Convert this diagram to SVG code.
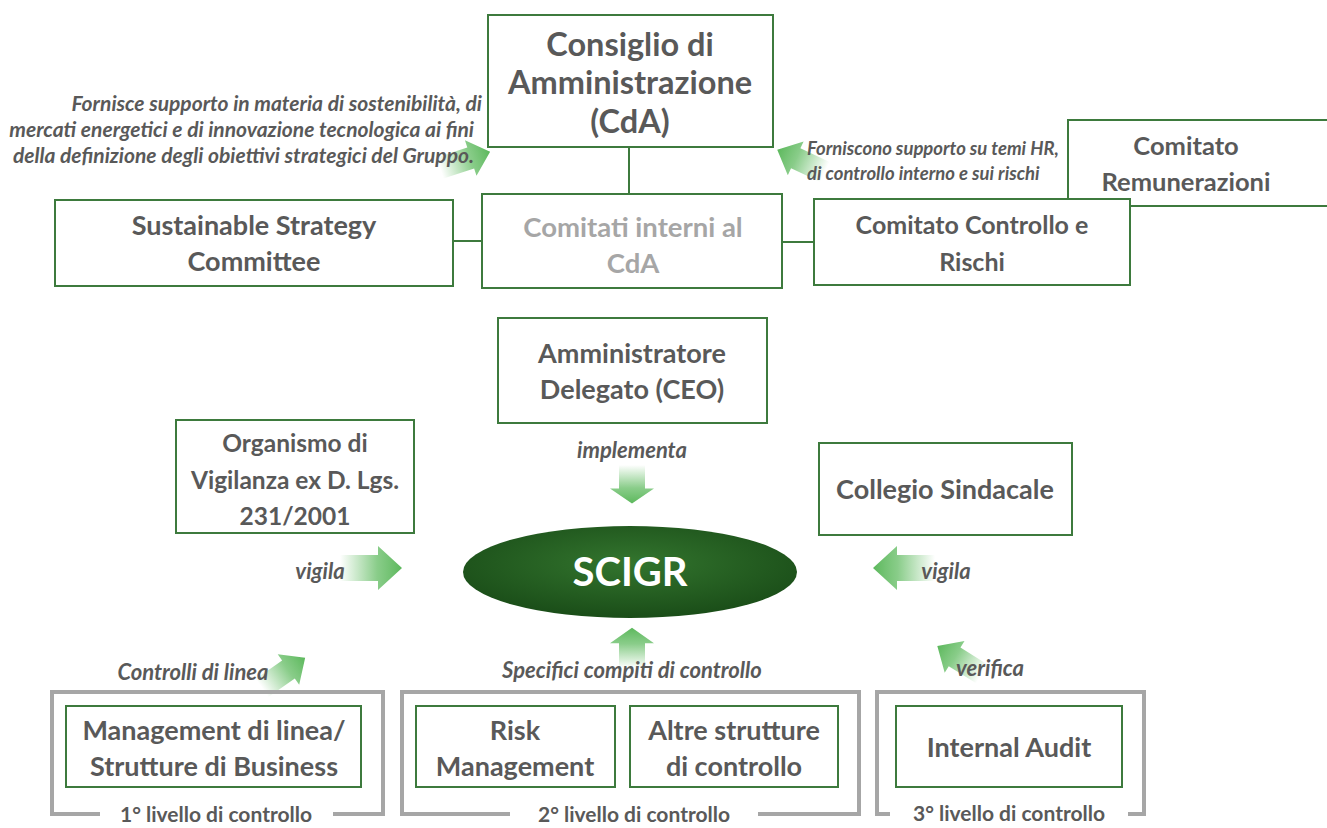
<svg xmlns="http://www.w3.org/2000/svg" width="1327" height="828" viewBox="0 0 1327 828">
<defs>
<linearGradient id="ag" x1="0" y1="0" x2="1" y2="0">
<stop offset="0" stop-color="#6cc06c" stop-opacity="0"/>
<stop offset="0.6" stop-color="#6cc06c" stop-opacity="0.8"/>
<stop offset="1" stop-color="#5cb85c"/>
</linearGradient>
<radialGradient id="eg" cx="0.5" cy="0.4" r="0.6">
<stop offset="0" stop-color="#33752e"/>
<stop offset="1" stop-color="#1a4d18"/>
</radialGradient>
<path id="arr" d="M0,-13 L38,-13 L38,-22 L62,0 L38,22 L38,13 L0,13 Z" fill="url(#ag)"/>
<style>
.box{fill:#fff;stroke:#3d7a3d;stroke-width:2}
.t{font-family:Lato,"Open Sans",sans-serif;font-weight:bold;fill:#595959;text-anchor:middle;font-size:27px}
.it{font-family:Lato,"Open Sans",sans-serif;font-weight:bold;font-style:italic;fill:#595959;font-size:22px}
.br{fill:none;stroke:#a6a6a6;stroke-width:4}
.ln{stroke:#3d7a3d;stroke-width:2;fill:none}
.lv{font-size:21px}
</style>
</defs>
<rect width="1327" height="828" fill="#fff"/>

<g id="connectors">
<line class="ln" x1="629" y1="147" x2="629" y2="194"/>
<line class="ln" x1="453" y1="241" x2="482" y2="241"/>
<line class="ln" x1="782" y1="242" x2="814" y2="242"/>
<use href="#arr" transform="translate(440,168) rotate(-18) scale(0.85)"/>
<use href="#arr" transform="translate(825,172) rotate(-155) scale(0.85)"/>
<use href="#arr" transform="translate(632,465) rotate(90) scale(0.62,1)"/>
<use href="#arr" transform="translate(340,568)"/>
<use href="#arr" transform="translate(935,568) rotate(180)"/>
<use href="#arr" transform="translate(632,668) rotate(-90) scale(0.65,1)"/>
<use href="#arr" transform="translate(262,688) rotate(-35) scale(0.85)"/>
<use href="#arr" transform="translate(982,674) rotate(-148) scale(0.85)"/>
</g>

<g id="note-left">
<text class="it" text-anchor="end" x="482" y="111" style="font-size:21px">Fornisce supporto in materia di sostenibilità, di</text>
<text class="it" text-anchor="end" x="474" y="137" style="font-size:21px">mercati energetici e di innovazione tecnologica ai fini</text>
<text class="it" text-anchor="end" x="474" y="163" style="font-size:21px">della definizione degli obiettivi strategici del Gruppo.</text>
</g>
<g id="note-right">
<text class="it" x="807" y="155" style="font-size:18.5px">Forniscono supporto su temi HR,</text>
<text class="it" x="807" y="180" style="font-size:18.5px">di controllo interno e sui rischi</text>
</g>

<g id="cda">
<rect class="box" x="488" y="15" width="285" height="132"/>
<text class="t" x="630" y="56" style="font-size:32.5px">Consiglio di</text>
<text class="t" x="630" y="94" style="font-size:32.5px">Amministrazione</text>
<text class="t" x="630" y="133" style="font-size:32.5px">(CdA)</text>
</g>

<g id="remunerazioni">
<rect class="box" x="1068" y="120" width="270" height="86"/>
<text class="t" x="1186" y="155" style="font-size:25.5px">Comitato</text>
<text class="t" x="1186" y="191" style="font-size:25.5px">Remunerazioni</text>
</g>

<g id="sustainable">
<rect class="box" x="55" y="200" width="398" height="86"/>
<text class="t" x="254" y="235">Sustainable Strategy</text>
<text class="t" x="254" y="271">Committee</text>
</g>

<g id="comitati">
<rect class="box" x="482" y="194" width="300" height="94"/>
<text class="t" x="633" y="237" style="fill:#a6a6a6;font-size:27.5px">Comitati interni al</text>
<text class="t" x="633" y="273" style="fill:#a6a6a6;font-size:27.5px">CdA</text>
</g>

<g id="controllo-rischi">
<rect class="box" x="814" y="199" width="316" height="86"/>
<text class="t" x="972" y="234" style="font-size:25px">Comitato Controllo e</text>
<text class="t" x="972" y="271" style="font-size:25px">Rischi</text>
</g>

<g id="ceo">
<rect class="box" x="498" y="318" width="269" height="105"/>
<text class="t" x="632" y="363">Amministratore</text>
<text class="t" x="632" y="399">Delegato (CEO)</text>
</g>

<g id="organismo">
<rect class="box" x="176" y="420" width="238" height="113"/>
<text class="t" x="295" y="452" style="font-size:24.5px">Organismo di</text>
<text class="t" x="295" y="489" style="font-size:24.5px">Vigilanza ex D. Lgs.</text>
<text class="t" x="295" y="525" style="font-size:24.5px">231/2001</text>
</g>

<g id="collegio">
<rect class="box" x="819" y="443" width="253" height="92"/>
<text class="t" x="945" y="499">Collegio Sindacale</text>
</g>

<g id="labels-mid">
<text class="it" x="632" y="458" text-anchor="middle">implementa</text>
<text class="it" x="320" y="579" text-anchor="middle">vigila</text>
<text class="it" x="946" y="579" text-anchor="middle">vigila</text>
<text class="it" x="193" y="680" text-anchor="middle">Controlli di linea</text>
<text class="it" x="632" y="678" text-anchor="middle">Specifici compiti di controllo</text>
<text class="it" x="990" y="676" text-anchor="middle">verifica</text>
</g>

<g id="scigr">
<ellipse cx="630" cy="572" rx="167" ry="46" fill="url(#eg)"/>
<text class="t" x="630" y="586" style="font-size:40px;fill:#fff">SCIGR</text>
</g>

<g id="level1">
<path class="br" d="M100,814 L52,814 L52,692 L383,692 L383,814 L333,814"/>
<rect class="box" x="66" y="706" width="295" height="81"/>
<text class="t" x="214" y="740">Management di linea/</text>
<text class="t" x="214" y="776">Strutture di Business</text>
<text class="t lv" x="216" y="822">1° livello di controllo</text>
</g>

<g id="level2">
<path class="br" d="M510,814 L402,814 L402,692 L859,692 L859,814 L758,814"/>
<rect class="box" x="416" y="706" width="199" height="81"/>
<text class="t" x="515" y="740">Risk</text>
<text class="t" x="515" y="776">Management</text>
<rect class="box" x="630" y="706" width="208" height="81"/>
<text class="t" x="734" y="740">Altre strutture</text>
<text class="t" x="734" y="776">di controllo</text>
<text class="t lv" x="634" y="822">2° livello di controllo</text>
</g>

<g id="level3">
<path class="br" d="M890,814 L877,814 L877,692 L1144,692 L1144,814 L1128,814"/>
<rect class="box" x="896" y="706" width="226" height="81"/>
<text class="t" x="1009" y="757">Internal Audit</text>
<text class="t lv" x="1009" y="821">3° livello di controllo</text>
</g>
</svg>
